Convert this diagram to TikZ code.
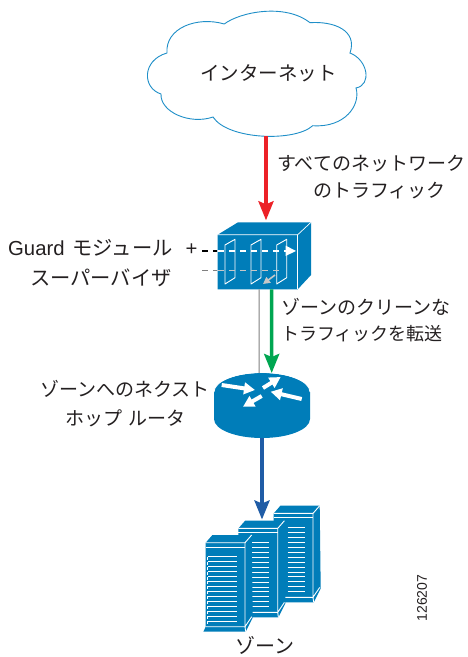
\documentclass[tikz,border=0pt]{standalone}
\usepackage{fontspec}
\setmainfont{Liberation Sans}
\newfontfamily\jp{Noto Sans CJK JP}
\usetikzlibrary{arrows.meta}
\definecolor{ciscoblue}{HTML}{007DB9}
\definecolor{cloudline}{HTML}{1F8FC8}
\definecolor{redflow}{HTML}{EC2127}
\definecolor{greenflow}{HTML}{00A651}
\definecolor{blueflow}{HTML}{1F5CA6}
\definecolor{txt}{HTML}{231F20}
\tikzset{
  lab/.style={text=txt,inner sep=0pt,font=\jp\fontsize{19}{19}\selectfont},
  shapeanchor/.style={inner sep=0pt,outer sep=0pt},
  flowred/.style={draw=redflow,line width=3.6pt,-{Stealth[length=19pt,width=15pt,inset=3pt]}},
  flowgreen/.style={draw=greenflow,line width=3.6pt,-{Stealth[length=19pt,width=15pt,inset=3pt]}},
  flowblue/.style={draw=blueflow,line width=3.8pt,-{Stealth[length=19pt,width=15pt,inset=3pt]}},
  edgew/.style={white,line width=0.9pt,line join=round},
  whitearrow/.style={white,line width=4pt,-{Stealth[length=11pt,width=11.5pt,inset=0pt]}},
  dashw/.style={line width=1.5pt,dash pattern=on 6pt off 5pt},
}
\newcommand{\serverrack}[3]{%
  \begin{scope}[shift={(#1,#2)}]
    \fill[ciscoblue] (-2.3,89) -- (40,89) -- (47,75) -- (46,-7.7) -- (6.7,-7.7) -- (0,0) -- (0,84) -- cycle;
    \draw[edgew] (0,0) -- (39.3,0) -- (46,-7.7);
    \draw[edgew] (0,4.5) -- (39.3,4.5);
    \draw[edgew] (39.3,0) -- (39.3,84) -- (46,74);
    \draw[edgew] (0,84) -- (39.3,84) -- (40,89);
    \foreach \k in {0,...,13}
      \draw[white,line width=0.9pt] (#3,14+4.95*\k) -- (31,14+4.95*\k);
    \ifnum\numexpr#3\relax=2
      \foreach \k in {0,...,13}
        \draw[white,line width=0.9pt] (2,14+4.95*\k) -- (2,17+4.95*\k);
    \fi
  \end{scope}}
\begin{document}
\begin{tikzpicture}[x=1pt,y=-1pt]
\useasboundingbox (0,0) rectangle (467,657);
% cloud
\draw[cloudline,line width=0.9pt,fill=white]
  (224.3,24) .. controls (240,12) and (285,3) .. (310,22.7)
  .. controls (333,21) and (358,30) .. (350,53)
  .. controls (368,60) and (372,85) .. (356,88)
  .. controls (361,105) and (345,128) .. (312.7,125.7)
  .. controls (295,142) and (228,140) .. (213,117)
  .. controls (190,125) and (160,112) .. (161,94)
  .. controls (142,88) and (142,60) .. (167,53)
  .. controls (165,28) and (197,16) .. (224.3,24) -- cycle;
\node[lab,minimum width=198pt,minimum height=126pt,font=\jp\fontsize{19.5}{20}\selectfont] (cloud) at (268.5,73) {インターネット};
% firewall module
\fill[ciscoblue] (217.7,234.7) -- (238,222.3) -- (311,222.3) -- (311,275) -- (297.7,289.3) -- (217.7,289.3) -- cycle;
\draw[white,line width=0.7pt] (217.7,234.7) -- (297.7,234.7) -- (311,222.3);
\draw[white,line width=0.7pt] (297.7,234.7) -- (297.7,289.3);
\node[shapeanchor,minimum width=93.3pt,minimum height=67pt] (fw) at (264.35,255.8) {};
\foreach \px in {225,251,276.7}
  \draw[edgew] (\px,245) -- (\px+10,239.3) -- (\px+10,277.7) -- (\px,284) -- cycle;
\draw[white,dashw] (218,251) -- (286,251);
\fill[white] (285.5,245.5) -- (296,251) -- (285.5,256) -- cycle;
\draw[black,dashw] (202,251) -- (217,251);
\draw[gray,dashw] (202,270.7) -- (217,270.7);
\draw[black!22,dashw] (218,270.7) -- (282,270.7);
\draw[black!22,line width=1.6pt,-{Stealth[length=7pt,width=7pt,inset=0pt]}] (275,275) -- (263,284);
% router
\fill[ciscoblue] (214,392) -- (214,419) arc[start angle=180,end angle=0,x radius=48pt,y radius=-19pt] -- (310,392) arc[start angle=0,end angle=360,x radius=48pt,y radius=19pt] -- cycle;
\draw[white,line width=0.8pt] (214,392) arc[start angle=180,end angle=360,x radius=48pt,y radius=-19.5pt];
\node[shapeanchor,minimum width=96pt,minimum height=65pt] (router) at (262,405.5) {};
\draw[whitearrow] (221.7,385) -- (255,390);
\draw[whitearrow] (263,388) -- (280.7,377);
\draw[whitearrow] (301.7,399) -- (270.7,391.7);
\draw[whitearrow] (261.7,396) -- (243,406.7);
% servers
\serverrack{273.7}{513.4}{14}
\serverrack{238.4}{528.4}{14}
\serverrack{205.7}{542.7}{2}
\node[shapeanchor,minimum width=1pt,minimum height=1pt] (zone) at (262,520) {};
% connectors
\draw[flowred] ([xshift=-2.5pt]cloud.south) -- ([xshift=1.65pt,yshift=2pt]fw.north);
\draw[gray,line width=1pt] ([xshift=-5.3pt]fw.south) -- ([xshift=-3pt]router.north);
\draw[flowgreen] ([xshift=7.3pt]fw.south) -- ([xshift=9.7pt]router.north);
\draw[flowblue] (router.south) -- (zone);
% labels
\node[lab,anchor=west] (l1) at (277,164) {すべてのネットワーク};
\node[lab,anchor=west] (l2) at (313,191) {のトラフィック};
\node[lab,anchor=west,font=\jp\fontsize{20.3}{20}\selectfont] (l3) at (8,248) {\rmfamily Guard\hspace{8pt}\jp モジュール\hspace{13pt}\rmfamily +};
\node[lab,anchor=west,font=\jp\fontsize{20.3}{20}\selectfont] (l4) at (30,278) {スーパーバイザ};
\node[lab,anchor=west] (l5) at (281,307) {ゾーンのクリーンな};
\node[lab,anchor=west,font=\jp\fontsize{18}{18}\selectfont] (l6) at (281,334) {トラフィックを転送};
\node[lab,anchor=west] (l7) at (40,389) {ゾーンへのネクスト};
\node[lab,anchor=west] (l8) at (65,418) {ホップ\hspace{6pt}ルータ};
\node[lab,font=\jp\fontsize{20}{20}\selectfont] (l9) at (265,645.5) {ゾーン};
\node[rotate=90,text=txt,inner sep=0pt,font=\fontsize{14}{14}\selectfont] (num) at (422,598) {126207};
\end{tikzpicture}
\end{document}
